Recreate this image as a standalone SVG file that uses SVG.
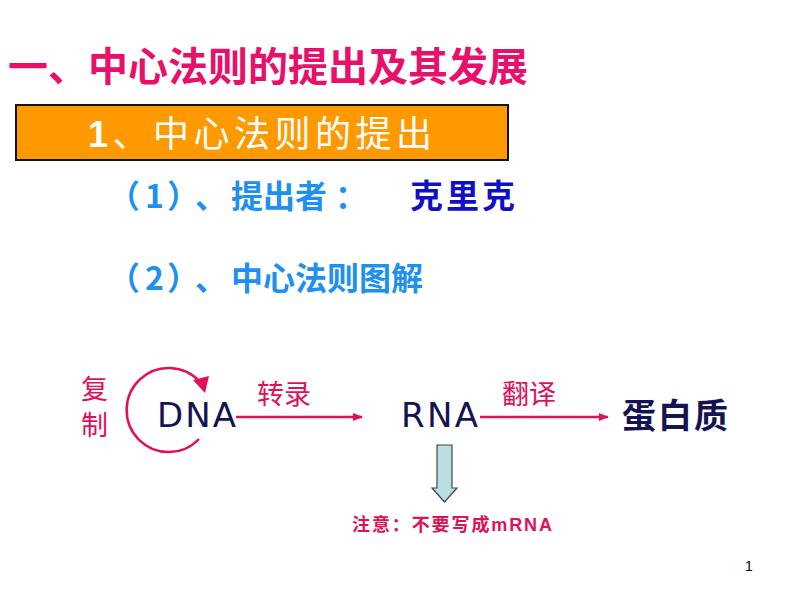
<svg xmlns="http://www.w3.org/2000/svg" width="800" height="600" viewBox="0 0 800 600">
<style>
text{font-family:"Liberation Sans","Noto Sans CJK SC",sans-serif}
.title{font-size:40px;font-weight:bold;fill:#e8106a}
.sub{font-size:36px;fill:#ffffff}
.blue{font-size:32px;font-weight:bold;fill:#1e90f0;font-family:"Noto Sans CJK SC","Liberation Sans",sans-serif}
.name{font-size:33px;font-weight:bold;fill:#1010c8}
.mol{font-size:34px;fill:#141452;font-family:"DejaVu Sans","Noto Sans CJK SC",sans-serif}
.lab{font-size:27px;fill:#e0105a}
.note{font-size:18px;font-weight:bold;fill:#e0105a}
.conn{stroke:#e0105a;stroke-width:2.5;fill:none}
</style>
<defs>
<marker id="ah" markerWidth="10" markerHeight="8" refX="9" refY="4" orient="auto" markerUnits="userSpaceOnUse">
<path d="M0,0 L10,4 L0,8 Z" fill="#e0105a"/>
</marker>
</defs>
<rect width="800" height="600" fill="#ffffff"/>
<g id="title"><text class="title" x="8" y="81" textLength="520">一、中心法则的提出及其发展</text></g>
<g id="header">
<rect x="16" y="105" width="492" height="55" fill="#ff9900" stroke="#111" stroke-width="2"/>
<text class="sub" x="88" y="147" textLength="344"><tspan font-weight="bold">1</tspan>、中心法则的提出</text>
</g>
<g id="proposer">
<text class="blue" x="108 145 167 195 231 263 295 335" y="208">（1）、提出者：</text>
<text class="name" x="410" y="208" textLength="105">克里克</text>
</g>
<g id="diagram-title"><text class="blue" x="108 145 167 195 231 263 295 327 359 391" y="290">（2）、中心法则图解</text></g>
<g id="replication">
<text class="lab" x="81" y="399">复</text>
<text class="lab" x="81" y="435">制</text>
</g>
<g id="DNA"><text class="mol" x="157" y="427" textLength="79">DNA</text></g>
<g id="RNA"><text class="mol" x="401" y="427" textLength="77">RNA</text></g>
<g id="protein"><text class="mol" x="622" y="428" font-weight="bold" textLength="106">蛋白质</text></g>
<g id="connectors">
<path class="conn" d="M199,439 A42,42 0 1 1 200,382"/>
<path d="M193,380 L209,376 L205,393 Z" fill="#e0105a"/>
<line class="conn" x1="236" y1="417" x2="362" y2="417" marker-end="url(#ah)"/>
<text class="lab" x="257" y="404">转录</text>
<line class="conn" x1="480" y1="417" x2="608" y2="417" marker-end="url(#ah)"/>
<text class="lab" x="502" y="404">翻译</text>
<path d="M437,445 L452,445 L452,488 L457,488 L444.5,502 L432,488 L437,488 Z" fill="#b8dde2" stroke="#444" stroke-width="1.2"/>
</g>
<g id="note"><text class="note" x="352" y="531" textLength="200">注意：不要写成mRNA</text></g>
<g id="page"><text x="745" y="571" font-size="14" fill="#000">1</text></g>
</svg>
